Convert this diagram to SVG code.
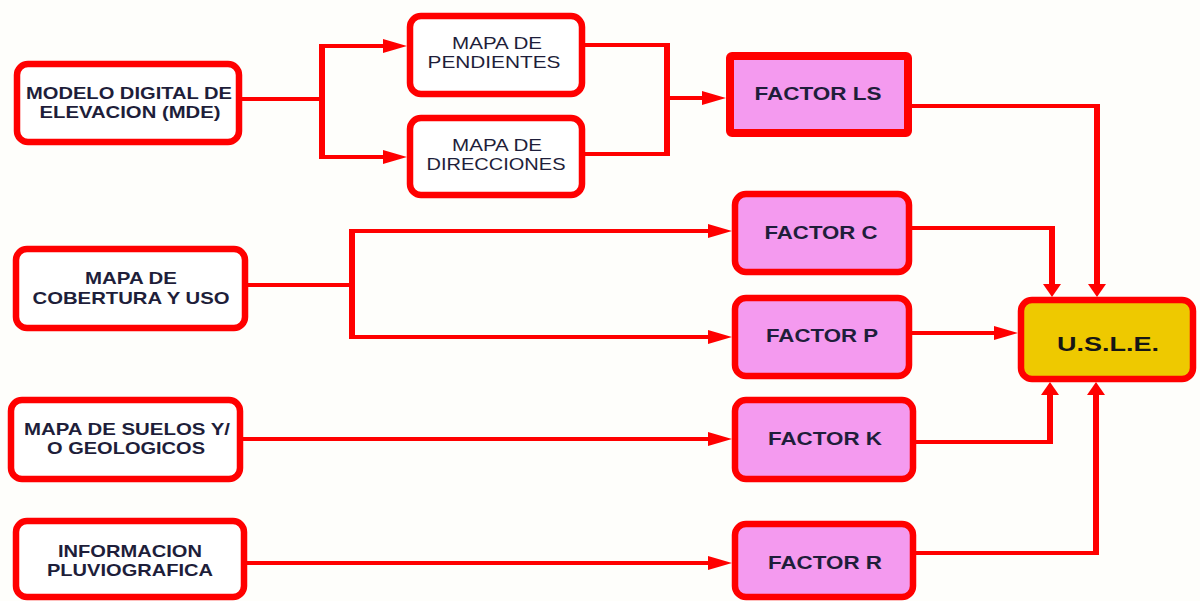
<svg xmlns="http://www.w3.org/2000/svg" width="1200" height="601" viewBox="0 0 1200 601">
  <style>
    .box { fill: #FFFFFF; stroke: #FF0000; stroke-width: 6.5; }
    .fac { fill: #F49AEF; stroke: #FF0000; stroke-width: 6.5; }
    .usle { fill: #EEC900; stroke: #FF0000; stroke-width: 6.5; }
    .t { font-family: "Liberation Sans", Arial, sans-serif; font-size: 17px; font-weight: bold; fill: #1E1E3A; text-anchor: middle; }
    .tr { font-family: "Liberation Sans", Arial, sans-serif; font-size: 17px; font-weight: normal; fill: #1E1E3A; text-anchor: middle; }
    .tf { font-family: "Liberation Sans", Arial, sans-serif; font-size: 19px; font-weight: bold; fill: #1E1E3A; text-anchor: middle; }
    .h { stroke: #FF0000; stroke-width: 4; fill: none; }
    .v { stroke: #FF0000; stroke-width: 6; fill: none; }
  </style>
  <defs>
    <marker id="ah" markerUnits="userSpaceOnUse" viewBox="0 0 24 14" refX="14" refY="7" markerWidth="24" markerHeight="14" orient="auto">
      <path d="M0,0 L24,7 L0,14 z" fill="#FF0000"/>
    </marker>
    <marker id="av" markerUnits="userSpaceOnUse" viewBox="0 0 13 18" refX="7" refY="9" markerWidth="13" markerHeight="18" orient="auto">
      <path d="M0,0 L13,9 L0,18 z" fill="#FF0000"/>
    </marker>
  </defs>
  <rect width="1200" height="601" fill="#FEFEFB"/>

  <g id="connectors">
    <!-- MDE split -->
    <line class="h" x1="242" y1="99" x2="322" y2="99"/>
    <line class="v" x1="322" y1="44" x2="322" y2="159"/>
    <line class="h" x1="320" y1="46" x2="397" y2="46" marker-end="url(#ah)"/>
    <line class="h" x1="320" y1="157" x2="397" y2="157" marker-end="url(#ah)"/>
    <!-- PEND/DIR merge to LS -->
    <line class="h" x1="585" y1="45" x2="670" y2="45"/>
    <line class="h" x1="585" y1="154" x2="670" y2="154"/>
    <line class="v" x1="667" y1="43" x2="667" y2="156"/>
    <line class="h" x1="665" y1="98" x2="716" y2="98" marker-end="url(#ah)"/>
    <!-- LS to USLE -->
    <line class="h" x1="912" y1="106" x2="1100" y2="106"/>
    <line class="v" x1="1097" y1="104" x2="1097" y2="291" marker-end="url(#av)"/>
    <!-- COB split -->
    <line class="h" x1="248" y1="285" x2="352" y2="285"/>
    <line class="v" x1="352" y1="229" x2="352" y2="339"/>
    <line class="h" x1="350" y1="231" x2="722" y2="231" marker-end="url(#ah)"/>
    <line class="h" x1="350" y1="337" x2="722" y2="337" marker-end="url(#ah)"/>
    <!-- C to USLE -->
    <line class="h" x1="912" y1="228" x2="1055" y2="228"/>
    <line class="v" x1="1052" y1="226" x2="1052" y2="291" marker-end="url(#av)"/>
    <!-- P to USLE -->
    <line class="h" x1="912" y1="333" x2="1008" y2="333" marker-end="url(#ah)"/>
    <!-- SUELOS to K -->
    <line class="h" x1="243" y1="439" x2="722" y2="439" marker-end="url(#ah)"/>
    <!-- K to USLE -->
    <line class="h" x1="916" y1="442" x2="1053" y2="442"/>
    <line class="v" x1="1050" y1="444" x2="1050" y2="388" marker-end="url(#av)"/>
    <!-- PLUVIO to R -->
    <line class="h" x1="247" y1="563" x2="722" y2="563" marker-end="url(#ah)"/>
    <!-- R to USLE -->
    <line class="h" x1="916" y1="553" x2="1099" y2="553"/>
    <line class="v" x1="1096" y1="555" x2="1096" y2="388" marker-end="url(#av)"/>
  </g>

  <g id="mde">
    <rect class="box" x="17" y="64" width="222" height="78" rx="11"/>
    <text class="t" x="129" y="99" textLength="206" lengthAdjust="spacingAndGlyphs">MODELO DIGITAL DE</text>
    <text class="t" x="130" y="118" textLength="181" lengthAdjust="spacingAndGlyphs">ELEVACION (MDE)</text>
  </g>
  <g id="pendientes">
    <rect class="box" x="410" y="16" width="172" height="78" rx="11"/>
    <text class="tr" x="497" y="49" textLength="90" lengthAdjust="spacingAndGlyphs">MAPA DE</text>
    <text class="tr" x="494" y="68" textLength="133" lengthAdjust="spacingAndGlyphs">PENDIENTES</text>
  </g>
  <g id="direcciones">
    <rect class="box" x="410" y="118" width="172" height="77" rx="11"/>
    <text class="tr" x="497" y="151" textLength="90" lengthAdjust="spacingAndGlyphs">MAPA DE</text>
    <text class="tr" x="496" y="170" textLength="139" lengthAdjust="spacingAndGlyphs">DIRECCIONES</text>
  </g>
  <g id="factor-ls">
    <rect class="fac" x="730" y="56" width="178" height="77" rx="2" style="stroke-width:8"/>
    <text class="tf" x="818" y="100" textLength="127" lengthAdjust="spacingAndGlyphs">FACTOR LS</text>
  </g>
  <g id="cobertura">
    <rect class="box" x="16" y="249" width="229" height="79" rx="11"/>
    <text class="t" x="131" y="284" textLength="92" lengthAdjust="spacingAndGlyphs">MAPA DE</text>
    <text class="t" x="131" y="304" textLength="197" lengthAdjust="spacingAndGlyphs">COBERTURA Y USO</text>
  </g>
  <g id="factor-c">
    <rect class="fac" x="735" y="194" width="174" height="78" rx="11"/>
    <text class="tf" x="821" y="239" textLength="113" lengthAdjust="spacingAndGlyphs">FACTOR C</text>
  </g>
  <g id="factor-p">
    <rect class="fac" x="735" y="298" width="174" height="78" rx="11"/>
    <text class="tf" x="822" y="342" textLength="112" lengthAdjust="spacingAndGlyphs">FACTOR P</text>
  </g>
  <g id="suelos">
    <rect class="box" x="11" y="400" width="229" height="79" rx="11"/>
    <text class="t" x="127" y="435" textLength="206" lengthAdjust="spacingAndGlyphs">MAPA DE SUELOS Y/</text>
    <text class="t" x="126" y="454" textLength="158" lengthAdjust="spacingAndGlyphs">O GEOLOGICOS</text>
  </g>
  <g id="factor-k">
    <rect class="fac" x="735" y="400" width="178" height="79" rx="11"/>
    <text class="tf" x="825" y="445" textLength="114" lengthAdjust="spacingAndGlyphs">FACTOR K</text>
  </g>
  <g id="pluvio">
    <rect class="box" x="16" y="521" width="228" height="76" rx="11"/>
    <text class="t" x="130" y="557" textLength="144" lengthAdjust="spacingAndGlyphs">INFORMACION</text>
    <text class="t" x="130" y="576" textLength="166" lengthAdjust="spacingAndGlyphs">PLUVIOGRAFICA</text>
  </g>
  <g id="factor-r">
    <rect class="fac" x="735" y="524" width="178" height="73" rx="11"/>
    <text class="tf" x="825" y="569" textLength="114" lengthAdjust="spacingAndGlyphs">FACTOR R</text>
  </g>
  <g id="usle">
    <rect class="usle" x="1021" y="300" width="172" height="79" rx="11"/>
    <text class="tf" x="1108" y="351" textLength="102" lengthAdjust="spacingAndGlyphs" style="font-size:21px;fill:#151515">U.S.L.E.</text>
  </g>
</svg>
